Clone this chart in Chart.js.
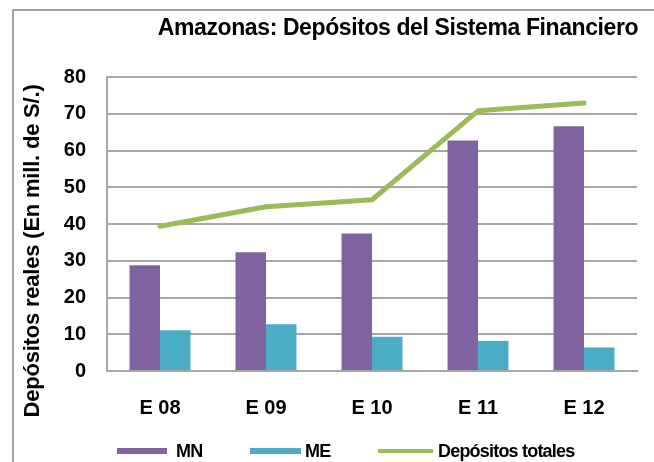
<!DOCTYPE html>
<html>
<head>
<meta charset="utf-8">
<script src="https://cdn.jsdelivr.net/npm/chart.js@4/dist/chart.umd.min.js"></script>
<style>
  body { margin: 0; background: #fff; }
  #wrap { width: 654px; height: 462px; }
</style>
</head>
<body>
<div id="wrap"><canvas id="c" width="654" height="462"></canvas></div>
<script>
// data
const categories = ['E 08', 'E 09', 'E 10', 'E 11', 'E 12'];
const mnValues = [28.8, 32.3, 37.4, 62.7, 66.6];
const meValues = [11.1, 12.7, 9.3, 8.2, 6.4];
const totalValues = [39.4, 44.7, 46.6, 70.8, 72.9];
const yMin = 0, yMax = 80, yStep = 10;

const titleText = 'Amazonas: Depósitos del Sistema Financiero';
const yTitleText = 'Depósitos reales (En mill. de S/.)';
const legendNames = ['MN', 'ME', 'Depósitos totales'];

const PURPLE = '#8064a2';
const TEAL = '#4bacc6';
const GREEN = '#9bbb59';
const GRID = '#a6a6a6';
const FONT = '"Liberation Sans", Arial, sans-serif';

// frame, title, rotated axis title and legend
const decorations = {
  id: 'decorations',
  beforeDraw(chart) {
    const ctx = chart.ctx;
    ctx.save();
    ctx.fillStyle = '#fff';
    ctx.fillRect(0, 0, chart.width, chart.height);
    ctx.strokeStyle = '#a0a0a0';
    ctx.lineWidth = 2;
    ctx.strokeRect(13, 10, 800, 600);
    ctx.restore();
  },
  afterDraw(chart) {
    const ctx = chart.ctx;
    ctx.save();
    ctx.fillStyle = '#000';

    // title
    ctx.font = 'bold 23px ' + FONT;
    ctx.letterSpacing = '-0.4px';
    ctx.textAlign = 'center';
    ctx.textBaseline = 'middle';
    ctx.fillText(titleText, 398, 29);

    // y axis title
    ctx.save();
    ctx.translate(33, 251);
    ctx.rotate(-Math.PI / 2);
    ctx.font = 'bold 22px ' + FONT;
    ctx.letterSpacing = '-0.2px';
    ctx.fillText(yTitleText, 0, 0);
    ctx.restore();

    // legend
    ctx.font = 'bold 18px ' + FONT;
    ctx.letterSpacing = '-0.8px';
    ctx.textAlign = 'left';
    const ly = 451;
    const items = [
      { x: 117, w: 50, h: 6, color: PURPLE, tx: 176 },
      { x: 250, w: 51, h: 6, color: TEAL, tx: 305 },
      { x: 378, w: 55, h: 4, color: GREEN, tx: 438 }
    ];
    items.forEach((it, i) => {
      ctx.fillStyle = it.color;
      ctx.fillRect(it.x, ly - it.h / 2, it.w, it.h);
      ctx.fillStyle = '#000';
      ctx.fillText(legendNames[i], it.tx, ly + 1);
    });
    ctx.restore();
  }
};

const chart = new Chart(document.getElementById('c'), {
  type: 'bar',
  data: {
    labels: categories,
    datasets: [
      {
        type: 'line',
        label: legendNames[2],
        data: totalValues,
        borderColor: GREEN,
        backgroundColor: GREEN,
        borderWidth: 5,
        borderCapStyle: 'round',
        borderJoinStyle: 'round',
        pointRadius: 0,
        tension: 0,
        order: 0
      },
      {
        label: legendNames[0],
        data: mnValues,
        backgroundColor: PURPLE,
        categoryPercentage: 0.575,
        barPercentage: 1,
        order: 1
      },
      {
        label: legendNames[1],
        data: meValues,
        backgroundColor: TEAL,
        categoryPercentage: 0.575,
        barPercentage: 1,
        order: 2
      }
    ]
  },
  options: {
    responsive: false,
    animation: false,
    events: [],
    layout: { padding: { left: 60, right: 17, top: 77, bottom: 17 } },
    plugins: {
      legend: { display: false },
      title: { display: false },
      tooltip: { enabled: false }
    },
    scales: {
      x: {
        grid: { display: false, drawTicks: false },
        border: { display: true, color: GRID, width: 2 },
        ticks: {
          color: '#000',
          padding: 25,
          maxRotation: 0,
          autoSkip: false,
          font: { family: FONT, size: 20, weight: 'bold' }
        }
      },
      y: {
        min: yMin,
        max: yMax,
        grid: { color: GRID, lineWidth: 2, drawTicks: false },
        border: { display: true, color: GRID, width: 2 },
        ticks: {
          stepSize: yStep,
          color: '#000',
          padding: 21,
          font: { family: FONT, size: 20, weight: 'bold' }
        },
        afterFit(scale) { scale.width = 47; }
      }
    }
  },
  plugins: [decorations]
});
</script>
</body>
</html>
